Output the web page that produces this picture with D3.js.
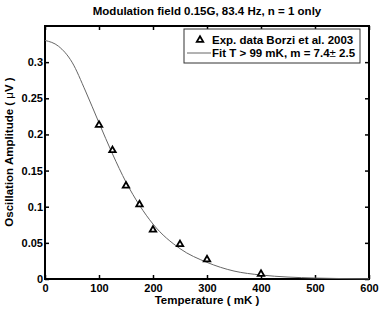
<!DOCTYPE html>
<html lang="en">
<head>
  <meta charset="UTF-8" />
  <title>Oscillation amplitude vs temperature</title>
  <script src="https://d3js.org/d3.v7.min.js"></script>
  <style>
    body {
      margin: 0;
      background: #fff;
    }
    text {
      font-family: "Liberation Sans", Arial, sans-serif;
      font-weight: bold;
      fill: #000;
    }
    .axis path { display: none; }
    .axis line { stroke: #000; stroke-width: 1.5; }
    .axis text { font-size: 11px; }
  </style>
</head>
<body>
<svg width="382" height="309"></svg>
<script>
// experimental points (Borzi et al. 2003)
const expT = [100, 125, 150, 175, 200, 250, 300, 400];
const expAmp = [0.213, 0.178, 0.129, 0.103, 0.068, 0.048, 0.027, 0.007];

// fit curve
const fitT = [0, 25, 50, 75, 100, 125, 150, 175, 200, 250, 300, 350, 400, 450, 500, 550, 600];
const fitAmp = [0.330, 0.322, 0.300, 0.260, 0.216, 0.173, 0.134, 0.102, 0.076, 0.042, 0.023, 0.011, 0.0055, 0.0027, 0.0013, 0.0006, 0.0003];

const xTicks = [0, 100, 200, 300, 400, 500, 600];
const yTicks = [0, 0.05, 0.1, 0.15, 0.2, 0.25, 0.3];

const svg = d3.select("svg");
const mLeft = 45, mRight = 369, mTop = 26, mBottom = 279;

const x = d3.scaleLinear().domain([0, 600]).range([mLeft, mRight]);
const y = d3.scaleLinear().domain([0, 0.35]).range([mBottom, mTop]);

const fmtY = d => d === 0 ? "0" : String(d);

// axes with inward ticks on all four sides
svg.append("g").attr("class", "axis")
  .attr("transform", `translate(0,${mBottom})`)
  .call(d3.axisBottom(x).tickValues(xTicks).tickSize(-4).tickPadding(5).tickFormat(d3.format("d")));
svg.append("g").attr("class", "axis")
  .attr("transform", `translate(0,${mTop})`)
  .call(d3.axisTop(x).tickValues(xTicks).tickSize(-4).tickFormat(""));
svg.append("g").attr("class", "axis")
  .attr("transform", `translate(${mLeft},0)`)
  .call(d3.axisLeft(y).tickValues(yTicks).tickSize(-4).tickPadding(2).tickFormat(fmtY));
svg.append("g").attr("class", "axis")
  .attr("transform", `translate(${mRight},0)`)
  .call(d3.axisRight(y).tickValues(yTicks).tickSize(-4).tickFormat(""));

// box
svg.append("rect")
  .attr("x", mLeft).attr("y", mTop)
  .attr("width", mRight - mLeft).attr("height", mBottom - mTop)
  .attr("fill", "none").attr("stroke", "#000").attr("stroke-width", 2);

// fit line
const line = d3.line()
  .x((d, i) => x(fitT[i]))
  .y(d => y(d))
  .curve(d3.curveMonotoneX);
svg.append("path")
  .datum(fitAmp)
  .attr("d", line)
  .attr("fill", "none")
  .attr("stroke", "#666")
  .attr("stroke-width", 1);

// data markers
const tri = d3.symbol().type(d3.symbolTriangle).size(18);
svg.selectAll(".pt")
  .data(expT)
  .enter()
  .append("path")
  .attr("class", "pt")
  .attr("d", tri)
  .attr("transform", (d, i) => `translate(${x(d)},${y(expAmp[i])})`)
  .attr("fill", "#fff")
  .attr("stroke", "#000")
  .attr("stroke-width", 1.8);

// title
svg.append("text")
  .attr("x", 207).attr("y", 15)
  .attr("text-anchor", "middle")
  .style("font-size", "11.5px")
  .text("Modulation field 0.15G, 83.4 Hz, n = 1 only");

// axis labels
svg.append("text")
  .attr("x", 207).attr("y", 304)
  .attr("text-anchor", "middle")
  .style("font-size", "11.5px")
  .text("Temperature ( mK )");

const yl = svg.append("text")
  .attr("transform", "translate(13,152) rotate(-90)")
  .attr("text-anchor", "middle")
  .style("font-size", "11.5px");
yl.append("tspan").text("Oscillation Amplitude ( ");
yl.append("tspan").style("font-weight", "normal").text("μ");
yl.append("tspan").text("V )");

// legend
const lg = svg.append("g");
lg.append("rect")
  .attr("x", 184).attr("y", 29)
  .attr("width", 176).attr("height", 34)
  .attr("fill", "#fff").attr("stroke", "#333").attr("stroke-width", 1);
lg.append("path")
  .attr("d", tri)
  .attr("transform", "translate(200,40)")
  .attr("fill", "#fff").attr("stroke", "#000").attr("stroke-width", 1.8);
lg.append("line")
  .attr("x1", 187).attr("x2", 211)
  .attr("y1", 53).attr("y2", 53)
  .attr("stroke", "#666").attr("stroke-width", 1);
lg.append("text")
  .attr("x", 212).attr("y", 44)
  .style("font-size", "11.5px")
  .text("Exp. data Borzi et al. 2003");
const l2 = lg.append("text")
  .attr("x", 212).attr("y", 57)
  .style("font-size", "11.5px");
l2.append("tspan").text("Fit T > 99 mK, m = 7.4");
l2.append("tspan").style("font-weight", "normal").text("±");
l2.append("tspan").text(" 2.5");
</script>
</body>
</html>
